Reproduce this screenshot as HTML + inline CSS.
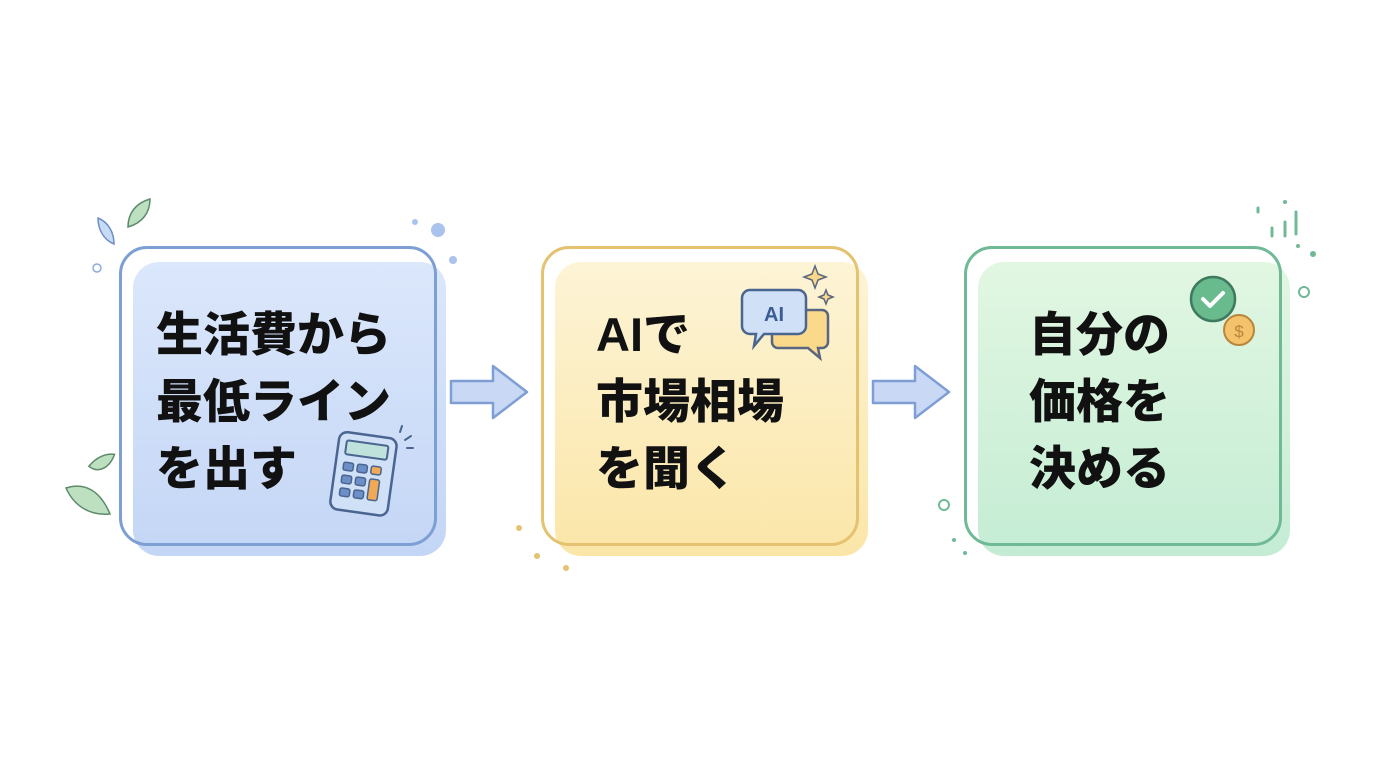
<!DOCTYPE html>
<html><head><meta charset="utf-8"><style>
body{margin:0;width:1376px;height:768px;background:#fff;position:relative;overflow:hidden;font-family:"Liberation Sans","Noto Sans CJK JP",sans-serif}
.fill{position:absolute;border-radius:26px}
.out{position:absolute;border-radius:28px;border:3px solid}
.t{position:absolute;font-weight:900;font-size:47px;line-height:67px;color:#111;white-space:nowrap}
svg{position:absolute;left:0;top:0}
</style></head><body>
<div class="fill" style="left:133px;top:262px;width:313px;height:294px;background:linear-gradient(#dbe7fb,#c4d6f6)"></div>
<div class="out" style="left:119px;top:246px;width:312px;height:294px;border-color:#7d9fd4"></div>
<div class="fill" style="left:555px;top:262px;width:313px;height:294px;background:linear-gradient(#fdf4d6,#fbe6a8)"></div>
<div class="out" style="left:541px;top:246px;width:312px;height:294px;border-color:#e4c270"></div>
<div class="fill" style="left:978px;top:262px;width:312px;height:294px;background:linear-gradient(#e2f7e2,#c4ecd4)"></div>
<div class="out" style="left:964px;top:246px;width:312px;height:294px;border-color:#6fb996"></div>
<div class="t" style="left:156px;top:301px">生活費から<br>最低ライン<br>を出す</div>
<div class="t" style="left:596px;top:301px">AIで<br>市場相場<br>を聞く</div>
<div class="t" style="left:1029px;top:301px">自分の<br>価格を<br>決める</div>
<svg width="1376" height="768">
<g fill="#c9d9f5" stroke="#7d9fd4" stroke-width="2.5" stroke-linejoin="round">
<path d="M451 381h42v-15l34 26-34 26v-15h-42z"/>
<path d="M873 381h42v-15l34 26-34 26v-15h-42z"/>
</g>
<g transform="rotate(8 365 470)">
<rect x="335" y="435" width="58" height="78" rx="8" fill="#cfe0f7" stroke="#4a6590" stroke-width="2.5"/>
<rect x="343" y="443" width="42" height="14" rx="2" fill="#bfe3dc" stroke="#4a6590" stroke-width="2"/>
<g fill="#6c8fc8" stroke="#4a6590" stroke-width="1.5">
<rect x="343" y="465" width="10" height="8" rx="2"/><rect x="357" y="465" width="10" height="8" rx="2"/>
<rect x="343" y="478" width="10" height="8" rx="2"/><rect x="357" y="478" width="10" height="8" rx="2"/>
<rect x="343" y="491" width="10" height="8" rx="2"/><rect x="357" y="491" width="10" height="8" rx="2"/></g>
<rect x="371" y="465" width="10" height="8" rx="2" fill="#f2a955" stroke="#4a6590" stroke-width="1.5"/>
<rect x="371" y="478" width="10" height="21" rx="2" fill="#f2a955" stroke="#4a6590" stroke-width="1.5"/>
</g>
<g stroke="#4a6590" stroke-width="2" stroke-linecap="round"><path d="M400 432l2-6M405 440l6-4M407 448h6"/></g>
<path d="M778 310h44a6 6 0 0 1 6 6v26a6 6 0 0 1-6 6h-4l2 10-12-10h-30a6 6 0 0 1-6-6v-26a6 6 0 0 1 6-6z" fill="#fbd98a" stroke="#5a6680" stroke-width="2.5"/>
<path d="M750 290h48a8 8 0 0 1 8 8v28a8 8 0 0 1-8 8h-34l-10 12 2-12h-6a8 8 0 0 1-8-8v-28a8 8 0 0 1 8-8z" fill="#cfe0f7" stroke="#4a6590" stroke-width="2.5"/>
<text x="774" y="321" font-size="20" font-weight="bold" fill="#3b5d94" text-anchor="middle" font-family="Liberation Sans,sans-serif">AI</text>
<g fill="#fbd98a" stroke="#5a6680" stroke-width="1.5"><path d="M815 266l3 8 8 3-8 3-3 8-3-8-8-3 8-3z"/><path d="M826 290l2 5 5 2-5 2-2 5-2-5-5-2 5-2z"/></g>
<circle cx="1239" cy="330" r="15" fill="#f4c26a" stroke="#b8863a" stroke-width="2"/>
<text x="1239" y="337" font-size="17" fill="#b8863a" text-anchor="middle">$</text>
<circle cx="1213" cy="299" r="22" fill="#69bb8d" stroke="#3e7a60" stroke-width="2.5"/>
<path d="M1203 299l7 7 13-13" fill="none" stroke="#fff" stroke-width="4" stroke-linecap="round" stroke-linejoin="round"/>
<g fill="#bde0c0" stroke="#5c8a6a" stroke-width="1.5">
<path d="M128 227c0-14 8-24 22-28 0 14-8 24-22 28z"/>
<path d="M98 218c10 4 16 14 16 26-10-4-16-14-16-26z" fill="#c6dbf5" stroke="#6d8fc4"/>
<path d="M90 470c4-12 12-18 20-20 0 14-8 24-20 20z" transform="rotate(20 100 465)"/>
<path d="M66 488c18-6 34 2 44 26-20 2-36-8-44-26z"/>
</g>
<g fill="#a9c2ee"><circle cx="438" cy="230" r="7"/><circle cx="415" cy="222" r="3"/><circle cx="453" cy="260" r="4"/></g>
<circle cx="97" cy="268" r="4" fill="none" stroke="#8eaad8" stroke-width="1.5"/>
<g fill="#e4c270"><circle cx="519" cy="528" r="3"/><circle cx="537" cy="556" r="3"/><circle cx="566" cy="568" r="3"/></g>
<circle cx="944" cy="505" r="5" fill="none" stroke="#6fb996" stroke-width="2"/>
<g fill="#6fb996"><circle cx="954" cy="540" r="2"/><circle cx="965" cy="553" r="2"/><circle cx="1313" cy="254" r="3"/><circle cx="1285" cy="202" r="2"/><circle cx="1298" cy="246" r="2"/></g>
<circle cx="1304" cy="292" r="5" fill="none" stroke="#6fb996" stroke-width="2"/>
<g stroke="#6fb996" stroke-width="3" stroke-linecap="round"><path d="M1296 212v22M1285 222v14M1272 228v8M1258 208v4"/></g>
</svg>
</body></html>
